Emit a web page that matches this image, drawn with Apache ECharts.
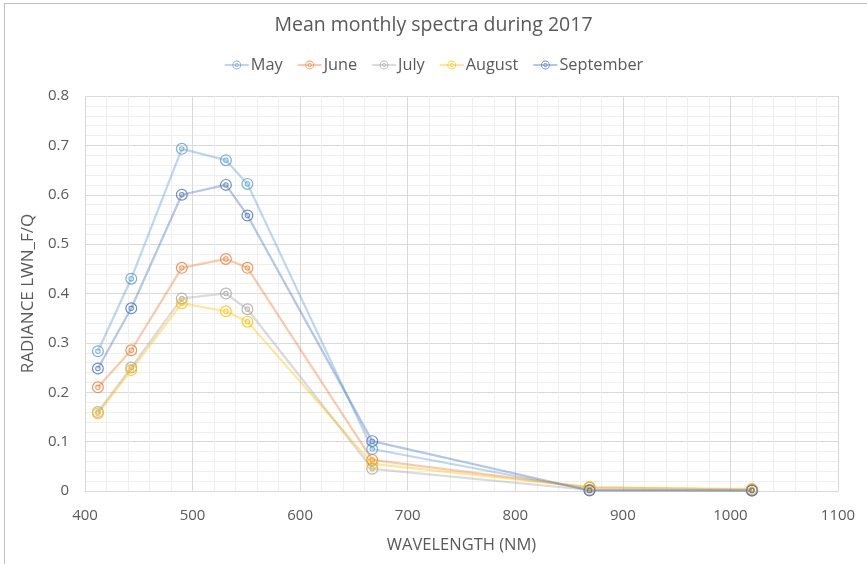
<!DOCTYPE html>
<html><head><meta charset="utf-8">
<script src="https://cdn.jsdelivr.net/npm/echarts@6/dist/echarts.min.js"></script>
<style>html,body{margin:0;padding:0;background:#fff}
#c{position:absolute;left:0;top:0;width:867px;height:564px;}
#frame{position:absolute;left:4px;top:3px;width:866px;height:570px;border:1px solid #bfbfbf;box-sizing:border-box;pointer-events:none}
</style></head>
<body><div id="c"></div><div id="frame"></div>
<script>
const wavelengths = [412, 443, 490, 531, 551, 667, 869, 1020];
const seriesNames = ['May', 'June', 'July', 'August', 'September'];
const may = [0.283, 0.430, 0.693, 0.670, 0.622, 0.085, 0.002, 0.001];
const june = [0.210, 0.285, 0.452, 0.470, 0.452, 0.063, 0.007, 0.003];
const july = [0.160, 0.250, 0.390, 0.400, 0.368, 0.045, 0.002, 0.001];
const august = [0.157, 0.245, 0.380, 0.364, 0.343, 0.055, 0.008, 0.004];
const september = [0.248, 0.370, 0.600, 0.620, 0.558, 0.101, 0.001, 0.001];
const yTicks = [0, 0.1, 0.2, 0.3, 0.4, 0.5, 0.6, 0.7, 0.8];
const xTicks = [400, 500, 600, 700, 800, 900, 1000, 1100];

const values = [may, june, july, august, september];
const colors = ['#5B9BD5', '#ED7D31', '#A5A5A5', '#FFC000', '#4472C4'];
const marker = 'path://M0,-10A10,10,0,1,1,0,10A10,10,0,1,1,0,-10ZM0,-8A8,8,0,1,0,0,8A8,8,0,1,0,0,-8ZM0,-4.5A4.5,4.5,0,1,1,0,4.5A4.5,4.5,0,1,1,0,-4.5ZM0,-2.8A2.8,2.8,0,1,0,0,2.8A2.8,2.8,0,1,0,0,-2.8Z';

const font = '"Open Sans", sans-serif';
const chart = echarts.init(document.getElementById('c'), null, {renderer: 'canvas'});
chart.setOption({
  animation: false,
  color: colors,
  title: {text: 'Mean monthly spectra during 2017', left: 'center', top: 10,
    textStyle: {fontFamily: font, fontWeight: 'normal', fontSize: 19.5, color: '#595959'}},
  legend: {top: 52, left: 'center', itemGap: 14, itemWidth: 24, itemHeight: 11,
    data: seriesNames,
    textStyle: {fontFamily: font, fontSize: 16.3, color: '#595959', padding: [0, 0, 0, -3]}},
  grid: {left: 85, right: 29, top: 96, bottom: 73},
  xAxis: {type: 'value', min: 400, max: 1100, interval: 100,
    name: 'WAVELENGTH (NM)', nameLocation: 'middle', nameGap: 46,
    nameTextStyle: {fontFamily: font, fontSize: 16.5, color: '#595959'},
    axisLine: {show: true, lineStyle: {color: '#d9d9d9'}},
    axisTick: {show: false},
    axisLabel: {fontFamily: font, fontSize: 15, color: '#595959', margin: 17,
      formatter: v => String(v)},
    splitLine: {show: true, lineStyle: {color: '#d9d9d9', width: 1}},
    minorTick: {show: false, splitNumber: 5},
    minorSplitLine: {show: true, lineStyle: {color: '#efefef', width: 1}}},
  yAxis: {type: 'value', min: 0, max: 0.8, interval: 0.1,
    name: 'RADIANCE LWN_F/Q', nameLocation: 'middle', nameGap: 47,
    nameTextStyle: {fontFamily: font, fontSize: 17, color: '#595959'},
    axisLine: {show: false}, axisTick: {show: false},
    axisLabel: {fontFamily: font, fontSize: 15, color: '#595959', margin: 16,
      formatter: v => (v === 0 ? '0' : v.toFixed(1))},
    splitLine: {show: true, lineStyle: {color: '#d9d9d9', width: 1}},
    minorTick: {show: false, splitNumber: 5},
    minorSplitLine: {show: true, lineStyle: {color: '#efefef', width: 1}}},
  series: seriesNames.map((n, i) => ({
    name: n, type: 'line',
    data: wavelengths.map((w, j) => [w, values[i][j]]),
    symbol: marker, symbolSize: 12, showAllSymbol: true,
    lineStyle: {width: 2.2, opacity: 0.4},
    itemStyle: {opacity: 0.8}
  }))
});
</script></body></html>
